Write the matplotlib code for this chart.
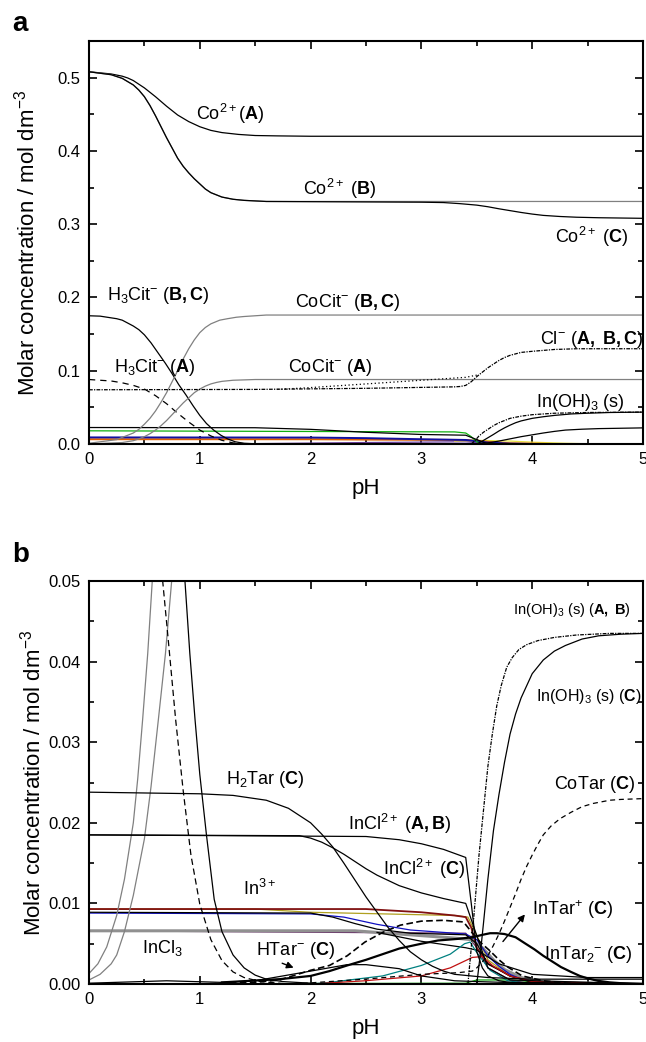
import numpy as np
import matplotlib.pyplot as plt
from matplotlib.ticker import MultipleLocator, FormatStrFormatter

plt.rcParams['font.family'] = ['Liberation Sans', 'DejaVu Sans']
plt.rcParams['mathtext.fontset'] = 'custom'
plt.rcParams['mathtext.rm'] = 'Liberation Sans'
plt.rcParams['mathtext.bf'] = 'Liberation Sans:bold'
plt.rcParams['mathtext.it'] = 'Liberation Sans:italic'

# ---------------- panel a : cobalt / citrate ----------------
ph_coA = [0, 0.2, 0.3, 0.35, 0.4, 0.45, 0.5, 0.55, 0.6, 0.65, 0.7, 0.75, 0.8, 0.85, 0.9, 0.95, 1.0, 1.1, 1.2,
          1.35, 1.5, 1.7, 2, 5]
co_A = [0.508, 0.505, 0.502, 0.4995, 0.496, 0.491, 0.486, 0.480, 0.474, 0.4675, 0.461, 0.455, 0.449, 0.4445,
        0.440, 0.4365, 0.433, 0.428, 0.425, 0.4225, 0.421, 0.4205, 0.42, 0.42]

ph_coB = [0, 0.2, 0.3, 0.4, 0.45, 0.5, 0.55, 0.6, 0.65, 0.7, 0.75, 0.8, 0.85, 0.9, 0.95, 1.0, 1.05, 1.1, 1.15,
          1.2, 1.3, 1.4, 1.6, 5]
co_B = [0.508, 0.504, 0.499, 0.490, 0.483, 0.474, 0.462, 0.448, 0.433, 0.418, 0.404, 0.39, 0.379, 0.37, 0.362,
        0.355, 0.348, 0.343, 0.340, 0.337, 0.334, 0.3325, 0.331, 0.331]

ph_coC = ph_coB[:-1] + [3.0, 3.2, 3.35, 3.5, 3.6, 3.7, 3.8, 3.9, 4.0, 4.1, 4.25, 4.4, 4.6, 5]
co_C = co_B[:-1] + [0.330, 0.3295, 0.328, 0.326, 0.3238, 0.321, 0.3185, 0.316, 0.3138, 0.312, 0.3105, 0.3095,
                    0.3088, 0.308]

ph_h3cit_bc = [0, 0.1, 0.25, 0.3, 0.4, 0.45, 0.5, 0.56, 0.625, 0.69, 0.75, 0.81, 0.875, 0.94, 1.0, 1.06, 1.125,
               1.19, 1.25, 1.32, 1.4, 1.5, 1.6, 5]
h3cit_bc = [0.175, 0.1745, 0.171, 0.169, 0.161, 0.156, 0.149, 0.138, 0.124, 0.110, 0.096, 0.081, 0.067, 0.052,
            0.039, 0.028, 0.019, 0.012, 0.007, 0.003, 0.001, 0.0003, 0.0, 0.0]

ph_h3cit_a = [0, 0.2, 0.3, 0.4, 0.5, 0.6, 0.7, 0.8, 0.9, 1.0, 1.1, 1.2, 1.3, 1.45, 5]
h3cit_a = [0.088, 0.086, 0.0835, 0.080, 0.075, 0.066, 0.055, 0.042, 0.030, 0.019, 0.011, 0.005, 0.0015, 0.0, 0.0]

ph_cocit_bc = [0, 0.25, 0.4, 0.45, 0.5, 0.55, 0.6, 0.65, 0.7, 0.75, 0.8, 0.85, 0.9, 0.95, 1.0, 1.05, 1.1, 1.18,
               1.25, 1.33, 1.4, 1.5, 1.6, 5]
cocit_bc = [0.001, 0.006, 0.015, 0.02, 0.027, 0.035, 0.045, 0.057, 0.07, 0.085, 0.1, 0.116, 0.13, 0.142, 0.152,
            0.159, 0.164, 0.169, 0.171, 0.173, 0.174, 0.175, 0.176, 0.176]

ph_cocit_a = [0, 0.3, 0.4, 0.45, 0.5, 0.55, 0.6, 0.65, 0.7, 0.75, 0.8, 0.85, 0.9, 0.95, 1.0, 1.05, 1.1, 1.15,
              1.2, 1.3, 1.4, 1.5, 5]
cocit_a = [0.0, 0.002, 0.0045, 0.007, 0.010, 0.014, 0.019, 0.025, 0.032, 0.040, 0.048, 0.056, 0.063, 0.070,
           0.075, 0.079, 0.082, 0.084, 0.0855, 0.087, 0.0875, 0.088, 0.088]

ph_cl = [0, 1.5, 2.5, 3.3, 3.35, 3.4, 3.42, 3.45, 3.5, 3.55, 3.6, 3.65, 3.7, 3.75, 3.8, 3.85, 3.9, 4.0, 4.2,
         4.4, 5]
cl = [0.074, 0.0745, 0.076, 0.078, 0.0785, 0.080, 0.082, 0.085, 0.092, 0.098, 0.104, 0.109, 0.114, 0.118,
      0.121, 0.123, 0.125, 0.1265, 0.129, 0.130, 0.130]
ph_cl2 = [1.7, 2.0, 2.5, 3.0, 3.4, 3.5]
cl2 = [0.0745, 0.077, 0.082, 0.087, 0.091, 0.094]

ph_inoh_1 = [3.45, 3.48, 3.52, 3.56, 3.6, 3.65, 3.7, 3.75, 3.8, 3.9, 4.0, 4.1, 4.2, 4.35, 4.5, 5]
inoh_1 = [0.0, 0.004, 0.011, 0.016, 0.020, 0.025, 0.029, 0.032, 0.035, 0.038, 0.040, 0.041, 0.042, 0.0425,
          0.043, 0.0435]
ph_inoh_2 = [3.5, 3.55, 3.6, 3.65, 3.7, 3.75, 3.8, 3.85, 3.9, 4.0, 4.1, 4.2, 4.35, 4.5, 4.7, 5]
inoh_2 = [0.0, 0.004, 0.0085, 0.013, 0.0178, 0.022, 0.0257, 0.029, 0.0315, 0.035, 0.0372, 0.039, 0.041, 0.042,
          0.043, 0.0435]
ph_inoh_3 = [3.5, 3.6, 3.7, 3.8, 3.9, 4.0, 4.1, 4.2, 4.3, 4.45, 4.6, 4.8, 5]
inoh_3 = [0.0, 0.0015, 0.004, 0.007, 0.010, 0.0125, 0.015, 0.0172, 0.019, 0.0202, 0.021, 0.0215, 0.022]

ph_low_k = [0, 1.5, 2.0, 2.5, 3.0, 3.4, 3.5, 3.6, 5]
low_k = [0.0225, 0.0222, 0.020, 0.016, 0.013, 0.012, 0.006, 0.0, 0.0]
ph_low_g = [0, 3.3, 3.4, 3.45, 3.5, 3.55, 5]
low_g = [0.018, 0.0165, 0.015, 0.010, 0.003, 0.0, 0.0]
ph_low_b = [0, 2.0, 2.5, 3.0, 3.4, 3.6, 3.8, 4.0, 5]
low_b = [0.009, 0.0088, 0.008, 0.0065, 0.0055, 0.002, 0.0005, 0.0, 0.0]
ph_low_o = [0, 2.0, 2.5, 3.4, 3.6, 3.8, 4.2, 5]
low_o = [0.0065, 0.0065, 0.006, 0.0055, 0.003, 0.001, 0.0, 0.0]
ph_low_p = [0, 1.5, 2.5, 3.4, 3.5, 3.6, 5]
low_p = [0.0, 0.0005, 0.002, 0.003, 0.002, 0.0, 0.0]
ph_low_y = [3.3, 3.5, 3.8, 4.0, 4.3, 4.6, 5]
low_y = [0.004, 0.005, 0.004, 0.0025, 0.001, 0.0, 0.0]

# ---------------- panel b : indium / tartrate ----------------
ph_gray1 = [0, 0.08, 0.16, 0.25, 0.32, 0.4, 0.44, 0.484, 0.53, 0.571, 0.6]
gray1 = [0.0013, 0.0025, 0.0046, 0.0085, 0.013, 0.020, 0.0255, 0.0328, 0.041, 0.05, 0.056]
ph_gray2 = [0, 0.1, 0.2, 0.25, 0.32, 0.4, 0.5, 0.56, 0.626, 0.69, 0.746, 0.78]
gray2 = [0.0005, 0.0012, 0.0025, 0.0036, 0.0065, 0.011, 0.018, 0.0245, 0.0328, 0.041, 0.05, 0.056]
ph_incl3_d = [0.62, 0.665, 0.72, 0.782, 0.85, 0.92, 1.0, 1.1, 1.2, 1.3, 1.4, 1.55, 1.8, 2.0]
incl3_d = [0.06, 0.05, 0.042, 0.0328, 0.024, 0.016, 0.0099, 0.0055, 0.0029, 0.0015, 0.0008, 0.0003, 0.0, 0.0]
ph_incl3_s = [0.82, 0.866, 0.91, 0.957, 1.0, 1.06, 1.13, 1.2, 1.3, 1.4, 1.5, 1.6, 1.75, 2.0]
incl3_s = [0.06, 0.05, 0.041, 0.0328, 0.026, 0.0185, 0.0105, 0.0065, 0.0036, 0.002, 0.0011, 0.0006, 0.0003, 0.0001]

ph_h2tar = [0, 1.0, 1.3, 1.6, 1.8, 2.0, 2.1, 2.2, 2.3, 2.4, 2.5, 2.6, 2.7, 2.8, 2.9, 3.0, 3.1, 3.2, 3.3, 3.6, 4.0, 5]
h2tar = [0.0238, 0.0236, 0.0234, 0.0228, 0.0218, 0.0200, 0.0186, 0.0170, 0.015, 0.0129, 0.0108, 0.0089, 0.007,
         0.0054, 0.004, 0.003, 0.0022, 0.0016, 0.0012, 0.0008, 0.0006, 0.0006]

ph_incl_ab = [0, 2.5, 2.8, 3.0, 3.2, 3.4, 3.45, 3.5, 3.55, 3.6, 3.7, 3.8, 5]
incl_ab = [0.0185, 0.0183, 0.0179, 0.0174, 0.0167, 0.0157, 0.010, 0.004, 0.002, 0.001, 0.0004, 0.0002, 0.0]
ph_incl_c = [0, 1.9, 2.0, 2.1, 2.2, 2.3, 2.4, 2.5, 2.6, 2.8, 3.0, 3.2, 3.4, 3.5, 3.6, 3.8, 5]
incl_c = [0.0185, 0.0184, 0.0181, 0.0176, 0.0169, 0.0161, 0.0152, 0.0143, 0.0135, 0.0122, 0.0113, 0.0106,
          0.0100, 0.006, 0.002, 0.0005, 0.0]

ph_in_red = [0, 2.5, 3.0, 3.3, 3.4, 3.45, 3.5, 3.6, 3.7, 3.8, 4.0, 4.3, 5]
in_red = [0.0093, 0.0093, 0.0089, 0.0085, 0.0083, 0.007, 0.0045, 0.0025, 0.0018, 0.001, 0.0003, 0.0, 0.0]
ph_in_olive = [0, 1.5, 2.0, 3.3, 3.42, 3.5, 3.6, 3.8, 4.1, 5]
in_olive = [0.0093, 0.0093, 0.0089, 0.0085, 0.0083, 0.006, 0.003, 0.001, 0.0, 0.0]
ph_in_blue = [0, 2.0, 2.3, 2.6, 2.9, 3.2, 3.4, 3.5, 3.6, 3.7, 3.8, 3.9, 4.1, 5]
in_blue = [0.0088, 0.0087, 0.0083, 0.0074, 0.0067, 0.0064, 0.0062, 0.0055, 0.0035, 0.0022, 0.0012, 0.0006, 0.0001, 0.0]
ph_in_k1 = [0, 2.0, 2.2, 2.4, 2.6, 2.9, 3.4, 3.5, 3.6, 3.8, 4.0, 5]
in_k1 = [0.0089, 0.0088, 0.0083, 0.0075, 0.0068, 0.0063, 0.0061, 0.005, 0.0025, 0.001, 0.0002, 0.0]
ph_in_k2 = [2.6, 3.0, 3.4, 3.5, 3.7, 4.0, 4.5, 5]
in_k2 = [0.0064, 0.0053, 0.0045, 0.0042, 0.0025, 0.0012, 0.0008, 0.0008]
ph_in_purple = [0, 3.4, 3.5, 3.6, 3.8, 4.0, 5]
in_purple = [0.0066, 0.0063, 0.0045, 0.002, 0.0005, 0.0, 0.0]
ph_in_gray = [0, 2.4, 2.7, 3.0, 3.3, 3.45, 3.55, 3.65, 3.75, 3.9, 4.1, 5]
in_gray = [0.0066, 0.0066, 0.0063, 0.006, 0.0057, 0.0055, 0.0045, 0.003, 0.0018, 0.0008, 0.0002, 0.0]

ph_htar = [1.0, 1.5, 1.72, 2.0, 2.17, 2.33, 2.49, 2.65, 2.81, 3.0, 3.2, 3.38, 3.45, 3.53, 3.62, 3.7, 3.78, 3.91,
           4.1, 4.4, 5]
htar = [0.0, 0.0002, 0.0005, 0.0017, 0.0023, 0.0035, 0.0052, 0.0064, 0.0073, 0.0078, 0.0079, 0.0077, 0.0065,
        0.0052, 0.0041, 0.003, 0.0021, 0.001, 0.0004, 0.0, 0.0]
ph_intar = [1.2, 1.72, 2.0, 2.17, 2.33, 2.5, 2.65, 2.8, 3.0, 3.15, 3.33, 3.46, 3.55, 3.62, 3.68, 3.75, 3.85, 3.94,
            4.02, 4.1, 4.18, 4.26, 4.35, 4.43, 4.5, 4.59, 4.7, 4.8, 5]
intar = [0.0002, 0.0006, 0.001, 0.0016, 0.0023, 0.003, 0.0037, 0.0044, 0.005, 0.0054, 0.0056, 0.0058, 0.0061,
         0.0063, 0.0063, 0.0062, 0.0058, 0.005, 0.0043, 0.0035, 0.0028, 0.0021, 0.0015, 0.001, 0.0007, 0.0004,
         0.0002, 0.0001, 0.0]
ph_hump = [0, 0.7, 1.2, 1.5, 2.0, 2.33, 2.5, 2.8, 3.0, 3.3, 3.5, 4.0, 5]
hump = [0.0001, 0.0004, 0.0002, 0.0004, 0.0016, 0.0024, 0.0024, 0.0019, 0.001, 0.0004, 0.0003, 0.0001, 0.0]
ph_teal = [2.0, 2.17, 2.65, 3.0, 3.26, 3.39, 3.44, 3.49, 3.62, 3.78, 4.0, 5]
teal = [0.0, 0.0002, 0.001, 0.0023, 0.0037, 0.005, 0.0052, 0.0041, 0.0017, 0.0004, 0.0, 0.0]
ph_red2 = [2.0, 2.49, 3.0, 3.26, 3.46, 3.55, 3.65, 3.8, 4.0, 5]
red2 = [0.0, 0.0004, 0.001, 0.002, 0.0033, 0.0034, 0.0022, 0.001, 0.0003, 0.0]
ph_cotar = [1.85, 2.49, 3.0, 3.33, 3.46, 3.5, 3.6, 3.65, 3.7, 3.75, 3.8, 3.85, 3.9, 3.95, 4.0, 4.05, 4.1, 4.17,
            4.25, 4.35, 4.45, 4.55, 4.7, 4.8, 5]
cotar = [0.0, 0.0006, 0.0012, 0.0014, 0.0016, 0.002, 0.0035, 0.0048, 0.0062, 0.0078, 0.0095, 0.0112, 0.013,
         0.0146, 0.016, 0.0173, 0.0185, 0.0196, 0.0205, 0.0213, 0.022, 0.0224, 0.0228, 0.0229, 0.023]
ph_green = [0, 3.4, 3.5, 3.8, 4.0, 4.3, 5]
green = [0.0, 0.0001, 0.0005, 0.0005, 0.0003, 0.0, 0.0]

ph_inohb_ab = [3.42, 3.45, 3.48, 3.52, 3.56, 3.6, 3.64, 3.68, 3.72, 3.77, 3.82, 3.88, 3.95, 4.05, 4.2, 4.4, 4.7, 5]
inohb_ab = [0.0, 0.0045, 0.0095, 0.016, 0.0215, 0.027, 0.031, 0.0345, 0.037, 0.0393, 0.0405, 0.0415, 0.0421,
            0.0426, 0.043, 0.0433, 0.0435, 0.0435]
ph_inohb_c = [3.5, 3.53, 3.56, 3.6, 3.65, 3.7, 3.75, 3.8, 3.85, 3.9, 3.95, 4.0, 4.1, 4.2, 4.3, 4.45, 4.6, 4.8, 5]
inohb_c = [0.0, 0.0035, 0.0075, 0.013, 0.019, 0.0235, 0.0275, 0.031, 0.0335, 0.0355, 0.037, 0.0385, 0.0402,
           0.0413, 0.042, 0.0428, 0.0432, 0.0434, 0.0435]

LFS = 13
fig = plt.figure(figsize=(6.46, 10.42), dpi=100)
ax1 = fig.add_axes([89 / 646, 1 - 444 / 1042, 554 / 646, 403 / 1042])
ax2 = fig.add_axes([89 / 646, 1 - 984 / 1042, 554 / 646, 403 / 1042])

lw = 0.9
dashdot = (0, (3, 1, 1, 1))
# panel a
ax1.plot(ph_low_p, low_p, color='#6a3d9a', lw=lw)
ax1.plot(ph_low_y, low_y, color='#e8e040', lw=lw)
ax1.plot(ph_low_o, low_o, color='#e06000', lw=1.4)
ax1.plot(ph_low_b, low_b, color='#1010a0', lw=1.4)
ax1.plot(ph_low_g, low_g, color='#10b010', lw=lw)
ax1.plot(ph_low_k, low_k, color='k', lw=lw)
ax1.plot(ph_coA, co_A, color='k', lw=lw)
ax1.plot(ph_coB, co_B, color='gray', lw=lw)
ax1.plot(ph_coC, co_C, color='k', lw=lw)
ax1.plot(ph_h3cit_bc, h3cit_bc, color='k', lw=lw)
ax1.plot(ph_h3cit_a, h3cit_a, color='k', lw=lw, ls=(0, (5, 4)))
ax1.plot(ph_cocit_bc, cocit_bc, color='gray', lw=lw)
ax1.plot(ph_cocit_a, cocit_a, color='gray', lw=lw)
ax1.plot(ph_cl2, cl2, color='k', lw=lw, ls=(0, (1, 2)))
ax1.plot(ph_cl, cl, color='k', lw=lw, ls=dashdot)
ax1.plot(ph_inoh_1, inoh_1, color='k', lw=lw, ls=dashdot)
ax1.plot(ph_inoh_2, inoh_2, color='k', lw=lw)
ax1.plot(ph_inoh_3, inoh_3, color='k', lw=lw)

ax1.text(0.966, 0.450, r'Co$^{2+}$($\mathbf{A}$)', fontsize=LFS, va='center')
ax1.text(1.93, 0.348, r'Co$^{2+}$ ($\mathbf{B}$)', fontsize=LFS, va='center')
ax1.text(4.21, 0.283, r'Co$^{2+}$ ($\mathbf{C}$)', fontsize=LFS, va='center')
ax1.text(0.16, 0.203, r'H$_3$Cit$^{-}$ ($\mathbf{B,C}$)', fontsize=LFS, va='center')
ax1.text(1.86, 0.193, r'CoCit$^{-}$ ($\mathbf{B,C}$)', fontsize=LFS, va='center')
ax1.text(4.07, 0.143, r'Cl$^{-}$ ($\mathbf{A,\ B,C}$)', fontsize=LFS, va='center')
ax1.text(0.226, 0.105, r'H$_3$Cit$^{-}$ ($\mathbf{A}$)', fontsize=LFS, va='center')
ax1.text(1.80, 0.105, r'CoCit$^{-}$ ($\mathbf{A}$)', fontsize=LFS, va='center')
ax1.text(4.03, 0.057, r'In(OH)$_3$ (s)', fontsize=LFS, va='center')

# panel b
ax2.plot(ph_green, green, color='#10a010', lw=lw)
ax2.plot(ph_in_purple, in_purple, color='#602060', lw=lw)
ax2.plot(ph_in_gray, in_gray, color='#909090', lw=2.2)
ax2.plot(ph_in_olive, in_olive, color='#b0a020', lw=lw)
ax2.plot(ph_in_red, in_red, color='#801010', lw=1.3)
ax2.plot(ph_in_blue, in_blue, color='#1010c0', lw=lw)
ax2.plot(ph_in_k1, in_k1, color='k', lw=lw)
ax2.plot(ph_in_k2, in_k2, color='k', lw=lw)
ax2.plot(ph_teal, teal, color='#008080', lw=lw)
ax2.plot(ph_red2, red2, color='#c01010', lw=lw)
ax2.plot(ph_hump, hump, color='k', lw=lw)
ax2.plot(ph_intar, intar, color='k', lw=1.6)
ax2.plot(ph_htar, htar, color='k', lw=1.2, ls=(0, (4, 2)))
ax2.plot(ph_cotar, cotar, color='k', lw=lw, ls=(0, (4, 3)))
ax2.plot(ph_gray1, gray1, color='gray', lw=lw)
ax2.plot(ph_gray2, gray2, color='gray', lw=lw)
ax2.plot(ph_incl3_d, incl3_d, color='k', lw=lw, ls=(0, (5, 3)))
ax2.plot(ph_incl3_s, incl3_s, color='k', lw=lw)
ax2.plot(ph_h2tar, h2tar, color='k', lw=lw)
ax2.plot(ph_incl_ab, incl_ab, color='k', lw=lw)
ax2.plot(ph_incl_c, incl_c, color='k', lw=lw)
ax2.plot(ph_inohb_ab, inohb_ab, color='k', lw=lw, ls=dashdot)
ax2.plot(ph_inohb_c, inohb_c, color='k', lw=lw)

ax2.text(3.83, 0.0464, r'In(OH)$_3$ (s) ($\mathbf{A,\ B}$)', fontsize=10.5, va='center')
ax2.text(4.03, 0.0357, r'In(OH)$_3$ (s) ($\mathbf{C}$)', fontsize=11.5, va='center')
ax2.text(4.20, 0.0248, r'CoTar ($\mathbf{C}$)', fontsize=LFS, va='center')
ax2.text(1.24, 0.0254, r'H$_2$Tar ($\mathbf{C}$)', fontsize=LFS, va='center')
ax2.text(2.34, 0.0199, r'InCl$^{2+}$ ($\mathbf{A,B}$)', fontsize=LFS, va='center')
ax2.text(2.65, 0.0143, r'InCl$^{2+}$ ($\mathbf{C}$)', fontsize=LFS, va='center')
ax2.text(1.39, 0.0118, r'In$^{3+}$', fontsize=LFS, va='center')
ax2.text(0.48, 0.0045, r'InCl$_3$', fontsize=LFS, va='center')
ax2.text(1.51, 0.0042, r'HTar$^{-}$ ($\mathbf{C}$)', fontsize=LFS, va='center')
ax2.text(4.0, 0.0092, r'InTar$^{+}$ ($\mathbf{C}$)', fontsize=LFS, va='center')
ax2.text(4.11, 0.0036, r'InTar$_2$$^{-}$ ($\mathbf{C}$)', fontsize=LFS, va='center')
ax2.annotate('', xy=(1.87, 0.0019), xytext=(1.72, 0.0027),
             arrowprops=dict(arrowstyle='-|>', color='k', lw=1, mutation_scale=10))
ax2.annotate('', xy=(3.95, 0.0089), xytext=(3.72, 0.0050),
             arrowprops=dict(arrowstyle='-|>', color='k', lw=1, mutation_scale=10))

for ax, ymax, maj, fmt, ylx in [(ax1, 0.55, 0.1, '%.1f', -0.09), (ax2, 0.05, 0.01, '%.2f', -0.078)]:
    ax.set_xlim(0, 5)
    ax.set_ylim(0, ymax)
    ax.xaxis.set_major_locator(MultipleLocator(1))
    ax.xaxis.set_minor_locator(MultipleLocator(0.5))
    ax.yaxis.set_major_locator(MultipleLocator(maj))
    ax.yaxis.set_minor_locator(MultipleLocator(maj / 2))
    ax.yaxis.set_major_formatter(FormatStrFormatter(fmt))
    ax.tick_params(which='both', direction='in', top=True, right=True, labelsize=12, width=1.2)
    ax.tick_params(which='major', length=6, pad=6)
    ax.tick_params(which='minor', length=3.5)
    for s in ax.spines.values():
        s.set_linewidth(1.5)
    ax.set_xlabel('pH', fontsize=16)
    ax.set_ylabel(r'Molar concentration / mol dm$^{-3}$', fontsize=16)
    ax.xaxis.set_label_coords(0.5, -0.085)
    ax.yaxis.set_label_coords(ylx, 0.5)

fig.text(12 / 646, 1 - 24 / 1042, 'a', fontsize=20, fontweight='bold', va='center')
fig.text(12 / 646, 1 - 555 / 1042, 'b', fontsize=20, fontweight='bold', va='center')

fig.savefig('out.png', dpi=100)
